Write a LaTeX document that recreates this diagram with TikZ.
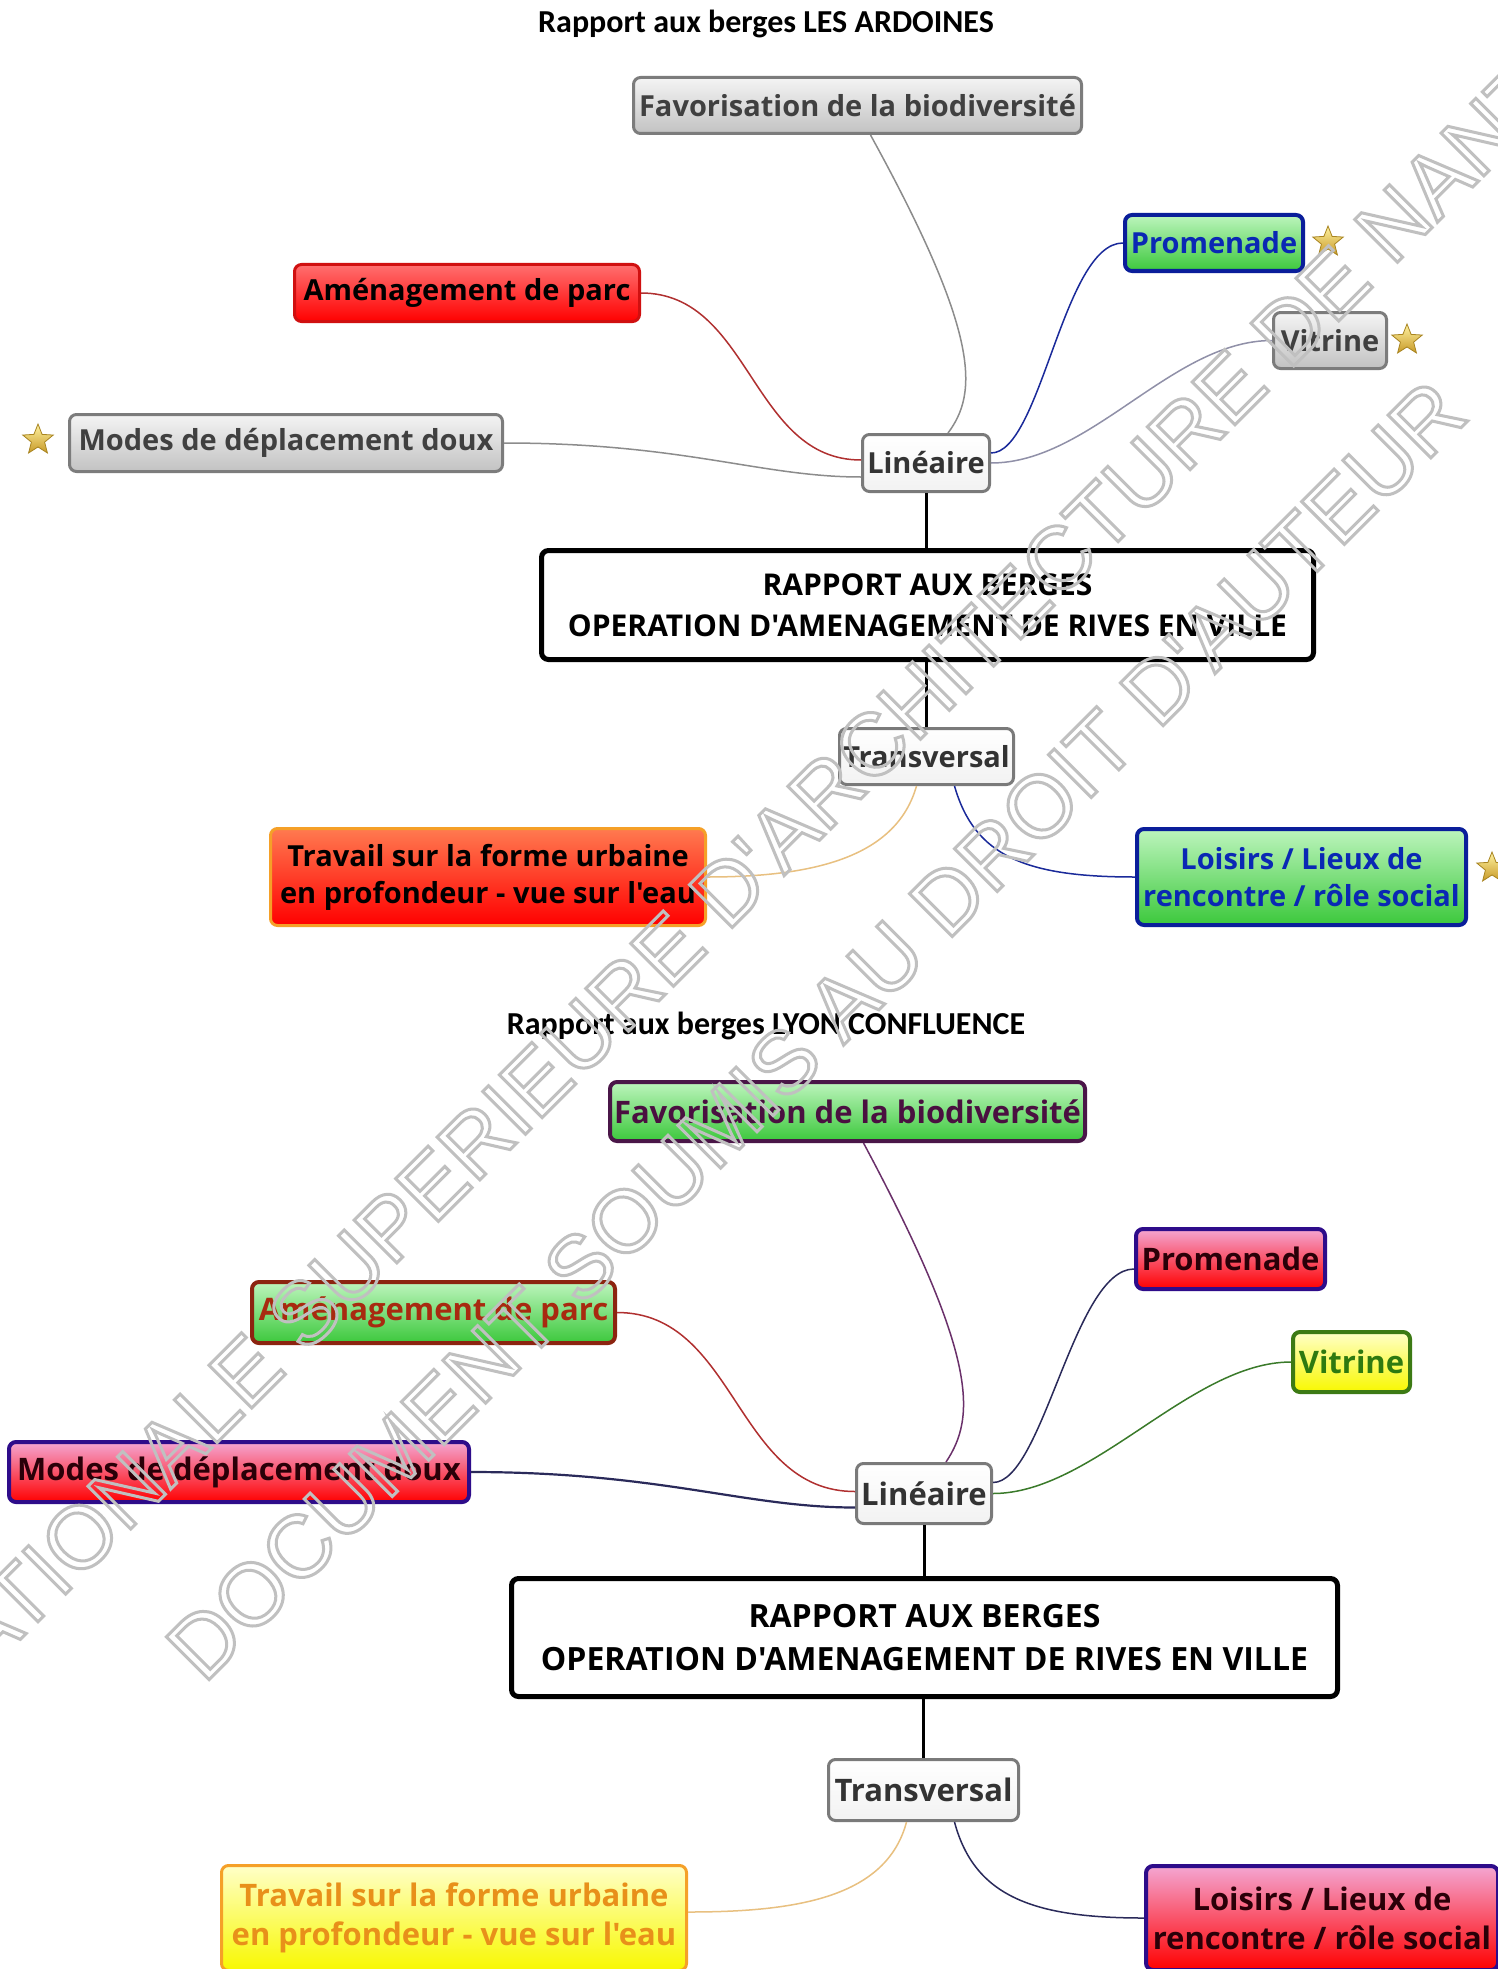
\documentclass[tikz,border=0pt]{standalone}
\usepackage{fontspec}
\usetikzlibrary{shapes.geometric}
\newfontfamily\nf{Open Sans}[Ligatures=TeXOff]
\newfontfamily\tf{Carlito}[Ligatures=TeXOff]
\newfontfamily\wf{Liberation Sans}[Ligatures=TeXOff]
\newcommand\outl[1]{\special{pdf:literal direct 1 Tr 3 w}#1\special{pdf:literal direct 0 Tr}}
% colours
\definecolor{grT}{HTML}{F4F4F4}\definecolor{grBt}{HTML}{C2C2C2}\definecolor{grB}{HTML}{7C7C7C}\definecolor{grTx}{HTML}{404040}
\definecolor{rdT}{HTML}{FF7070}\definecolor{rdBt}{HTML}{FF0000}\definecolor{rdB}{HTML}{D01010}
\definecolor{gnT}{HTML}{BDF5BD}\definecolor{gnBt}{HTML}{3CC83C}
\definecolor{blB}{HTML}{0A1E9A}\definecolor{blTx}{HTML}{0A28B4}
\definecolor{orB}{HTML}{F5A028}\definecolor{orT}{HTML}{FF7A50}
\definecolor{puB}{HTML}{4A1648}\definecolor{puTx}{HTML}{4A1040}
\definecolor{pkT}{HTML}{F4A6D2}\definecolor{inB}{HTML}{2E0C8A}\definecolor{dkTx}{HTML}{2A0008}
\definecolor{ylT}{HTML}{FFFFC8}\definecolor{ylBt}{HTML}{F8F800}\definecolor{gdB}{HTML}{3C7A14}\definecolor{gdTx}{HTML}{2E7A10}
\definecolor{brB}{HTML}{8C2410}\definecolor{brTx}{HTML}{A82A10}
\definecolor{ocTx}{HTML}{E8901A}
\definecolor{wT}{HTML}{FFFFFF}\definecolor{wBt}{HTML}{F2F2F2}\definecolor{wB}{HTML}{7A7A7A}\definecolor{wTx}{HTML}{333333}
\definecolor{stT}{HTML}{FFF2A0}\definecolor{stBt}{HTML}{C89A28}\definecolor{stB}{HTML}{A88420}
\definecolor{lnGr}{HTML}{8C8C8C}\definecolor{lnRd}{HTML}{B03030}\definecolor{lnBl}{HTML}{1A2A9A}
\definecolor{lnTan}{HTML}{E8C080}\definecolor{lnPu}{HTML}{6A306A}\definecolor{lnNv}{HTML}{2A2A5A}\definecolor{lnGn}{HTML}{3A7A2A}
\definecolor{lnGv}{HTML}{9090A8}\definecolor{wmC}{HTML}{C0C0C0}
\begin{document}
\begin{tikzpicture}[x=1pt,y=-1pt,
  box/.style={rounded corners=7, inner sep=0, align=center, font=\nf\bfseries\fontsize{29}{37}\selectfont},
  boxb/.style={box, font=\nf\bfseries\fontsize{31}{39}\selectfont},
  gry/.style={draw=grB, line width=3, top color=grT, bottom color=grBt, text=grTx},
  wht/.style={draw=wB, line width=3, top color=wT, bottom color=wBt, text=wTx},
  cen/.style={draw=black, line width=5, fill=white, text=black},
  ttl/.style={font=\tf\bfseries\fontsize{32}{36}\selectfont, inner sep=0},
  con/.style={line width=1.5},
  stem/.style={line width=3, draw=black},
  starn/.style={star, star points=5, star point ratio=2.3, minimum size=32, inner sep=0, draw=stB, line width=0.8, top color=stT, bottom color=stBt},
  wm/.style={font=\wf\fontsize{88}{88}\selectfont, text=wmC, inner sep=0}]
\useasboundingbox (0,0) rectangle (1497,1969);
\fill[white] (0,0) rectangle (1497,1969);

% ===== TOP : LES ARDOINES =====
\node[ttl] (t1) at (766,24) {Rapport aux berges LES ARDOINES};
\node[box,gry,minimum width=448,minimum height=56] (fav1) at (857.5,105.5) {Favorisation de la biodiversité};
\node[box,draw=blB,line width=4,top color=gnT,bottom color=gnBt,text=blTx,minimum width=178,minimum height=56] (prom1) at (1214,243) {Promenade};
\node[box,gry,minimum width=113,minimum height=56] (vit1) at (1330,340.5) {Vitrine};
\node[box,draw=rdB,line width=3,top color=rdT,bottom color=rdBt,text=black,minimum width=345,minimum height=57] (ame1) at (467,293) {Aménagement de parc};
\node[box,gry,minimum width=433,minimum height=57] (modes1) at (286,443) {Modes de déplacement doux};
\node[box,wht,minimum width=127,minimum height=57] (lin1) at (926,463) {Linéaire};
\node[box,cen,minimum width=772,minimum height=109,font=\nf\bfseries\fontsize{30}{41}\selectfont] (cen1) at (927.5,605) {RAPPORT AUX BERGES\\OPERATION D'AMENAGEMENT DE RIVES EN VILLE};
\node[box,wht,minimum width=174,minimum height=56] (trans1) at (926.5,756.5) {Transversal};
\node[box,draw=orB,line width=3,top color=orT,bottom color=rdBt,text=black,minimum width=435,minimum height=97] (trav1) at (488,877) {Travail sur la forme urbaine\\en profondeur - vue sur l'eau};
\node[box,draw=blB,line width=4,top color=gnT,bottom color=gnBt,text=blTx,minimum width=329,minimum height=96] (lois1) at (1301.5,877) {Loisirs / Lieux de\\rencontre / rôle social};

\node[starn] (s1) at (1328,242) {};
\node[starn] (s2) at (1407,340) {};
\node[starn] (s3) at (38,440) {};
\node[starn] (s4) at (1492,868) {};

\draw[con,lnGr] ([xshift=13]fav1.south) .. controls +(110,200) and +(30,-40) .. ([xshift=22]lin1.north);
\draw[con,lnRd] (ame1.east) .. controls +(110,0) and +(-110,0) .. ([yshift=3]lin1.west);
\draw[con,lnGr] (modes1.east) .. controls +(180,0) and +(-100,0) .. ([yshift=-14]lin1.west);
\draw[con,lnBl] ([yshift=10]lin1.east) .. controls +(50,0) and +(-60,0) .. (prom1.west);
\draw[con,lnGv] (lin1.east) .. controls +(100,0) and +(-100,0) .. (vit1.west);
\draw[stem] (lin1.south) -- (lin1.south |- cen1.north);
\draw[stem] (cen1.south -| trans1.north) -- (trans1.north);
\draw[con,lnTan] ([xshift=-10]trans1.south) .. controls +(-20,70) and +(110,0) .. (trav1.east);
\draw[con,lnBl] ([xshift=28]trans1.south) .. controls +(20,70) and +(-110,0) .. (lois1.west);

% ===== BOTTOM : LYON CONFLUENCE =====
\node[ttl] (t2) at (766,1026) {Rapport aux berges LYON CONFLUENCE};
\node[boxb,draw=puB,line width=4,top color=gnT,bottom color=gnBt,text=puTx,minimum width=475,minimum height=59] (fav2) at (847.5,1111.5) {Favorisation de la biodiversité};
\node[boxb,draw=inB,line width=4,top color=pkT,bottom color=rdBt,text=dkTx,minimum width=189,minimum height=60] (prom2) at (1230.5,1259) {Promenade};
\node[boxb,draw=gdB,line width=4,top color=ylT,bottom color=ylBt,text=gdTx,minimum width=117,minimum height=60] (vit2) at (1351.5,1362) {Vitrine};
\node[boxb,draw=brB,line width=4,top color=gnT,bottom color=gnBt,text=brTx,minimum width=363,minimum height=61] (ame2) at (433.5,1312.5) {Aménagement de parc};
\node[boxb,draw=inB,line width=4,top color=pkT,bottom color=rdBt,text=dkTx,minimum width=460,minimum height=60] (modes2) at (239,1472) {Modes de déplacement doux};
\node[boxb,wht,minimum width=135,minimum height=60] (lin2) at (924,1493.5) {Linéaire};
\node[boxb,cen,minimum width=826,minimum height=118,font=\nf\bfseries\fontsize{32}{43}\selectfont] (cen2) at (924.5,1637.5) {RAPPORT AUX BERGES\\OPERATION D'AMENAGEMENT DE RIVES EN VILLE};
\node[boxb,wht,minimum width=190,minimum height=61] (trans2) at (923.5,1790) {Transversal};
\node[boxb,draw=orB,line width=3,top color=ylT,bottom color=ylBt,text=ocTx,minimum width=465,minimum height=105] (trav2) at (454,1918) {Travail sur la forme urbaine\\en profondeur - vue sur l'eau};
\node[boxb,draw=inB,line width=4,top color=pkT,bottom color=rdBt,text=dkTx,minimum width=352,minimum height=104] (lois2) at (1322,1918) {Loisirs / Lieux de\\rencontre / rôle social};

\draw[con,lnPu] ([xshift=16]fav2.south) .. controls +(115,215) and +(30,-45) .. ([xshift=22]lin2.north);
\draw[con,lnRd] (ame2.east) .. controls +(120,0) and +(-120,0) .. ([yshift=2]lin2.west);
\draw[line width=2.2,lnNv] (modes2.east) .. controls +(190,0) and +(-110,0) .. ([yshift=-14]lin2.west);
\draw[con,lnNv] ([yshift=11]lin2.east) .. controls +(50,0) and +(-60,0) .. ([yshift=-10]prom2.west);
\draw[con,lnGn] (lin2.east) .. controls +(100,0) and +(-100,0) .. (vit2.west);
\draw[stem] (lin2.south) -- (lin2.south |- cen2.north);
\draw[stem] (cen2.south -| trans2.north) -- (trans2.north);
\draw[con,lnTan] ([xshift=-17]trans2.south) .. controls +(-20,75) and +(110,0) .. ([yshift=6]trav2.east);
\draw[con,lnNv] ([xshift=31]trans2.south) .. controls +(20,75) and +(-110,0) .. (lois2.west);

% ===== watermark =====
\node[wm,rotate=45] (wm1) at (657,960) {\outl{ECOLE NATIONALE SUPERIEURE D'ARCHITECTURE DE NANTES}};
\node[wm,rotate=45] (wm2) at (816,1030) {\outl{DOCUMENT SOUMIS AU DROIT D'AUTEUR}};
\end{tikzpicture}
\end{document}
